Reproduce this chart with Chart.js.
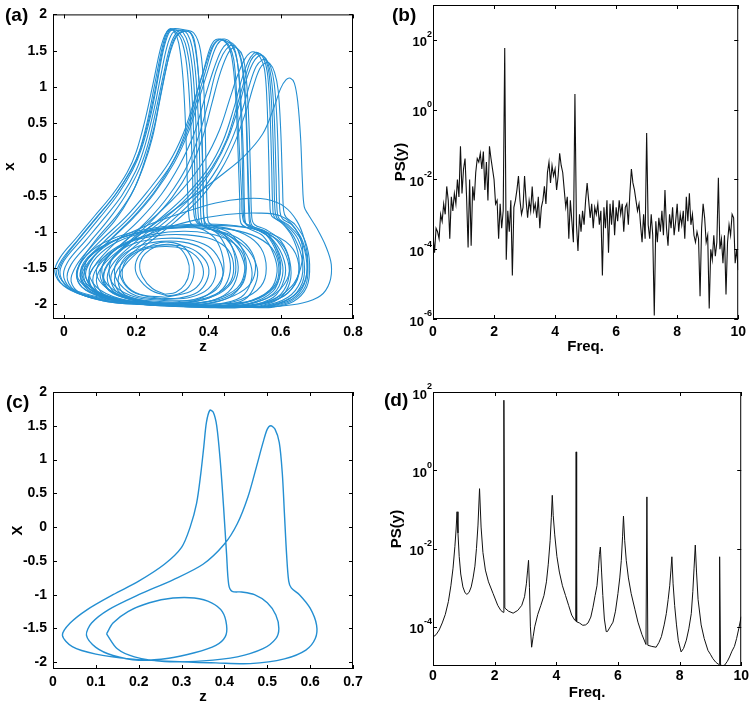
<!DOCTYPE html>
<html>
<head>
<meta charset="utf-8">
<script src="https://cdn.jsdelivr.net/npm/chart.js@4.4.1/dist/chart.umd.min.js"></script>
<style>
  body { margin: 0; background: #fff; }
  #fig { position: relative; width: 751px; height: 706px; overflow: hidden; }
  #fig canvas { position: absolute; }
  .tag { position: absolute; font: bold 19px 'Liberation Sans', Arial, sans-serif; line-height: 19px; color: #000; }
</style>
</head>
<body>
<div id="fig">
  <canvas id="chartA" width="375" height="360" style="left:0;top:0"></canvas>
  <canvas id="chartB" width="376" height="360" style="left:375px;top:0"></canvas>
  <canvas id="chartC" width="375" height="346" style="left:0;top:360px"></canvas>
  <canvas id="chartD" width="376" height="346" style="left:375px;top:360px"></canvas>
  <div class="tag" style="left:5px;top:5px">(a)</div>
  <div class="tag" style="left:392px;top:5px">(b)</div>
  <div class="tag" style="left:6px;top:392px">(c)</div>
  <div class="tag" style="left:384px;top:390px">(d)</div>
</div>
<script>
// ---- (a) chaotic attractor, traced loops as z,x pairs ----
const aTall = [
  [0.30,-2.0, 0.18,-1.97, 0.08,-1.9, 0.01,-1.78, -0.02,-1.58, -0.005,-1.38, 0.04,-1.1, 0.09,-0.8, 0.14,-0.5, 0.18,-0.2, 0.205,0.05, 0.23,0.5, 0.25,1.0, 0.268,1.45, 0.282,1.72, 0.292,1.8, 0.305,1.78, 0.325,1.65, 0.34,1.3, 0.35,0.6, 0.356,-0.2, 0.36,-0.75, 0.37,-0.88, 0.4,-0.94, 0.43,-1.05, 0.455,-1.3, 0.46,-1.55, 0.44,-1.78, 0.39,-1.93, 0.30,-2.0],
  [0.31,-2.01, 0.19,-1.98, 0.09,-1.92, 0.02,-1.8, -0.01,-1.6, 0.0,-1.4, 0.05,-1.1, 0.1,-0.8, 0.15,-0.48, 0.19,-0.15, 0.215,0.15, 0.24,0.6, 0.258,1.05, 0.275,1.5, 0.29,1.74, 0.302,1.79, 0.318,1.76, 0.336,1.6, 0.35,1.2, 0.358,0.5, 0.363,-0.3, 0.366,-0.8, 0.38,-0.9, 0.41,-0.97, 0.45,-1.1, 0.478,-1.35, 0.48,-1.6, 0.455,-1.83, 0.4,-1.96, 0.31,-2.01],
  [0.32,-2.02, 0.2,-1.99, 0.1,-1.93, 0.03,-1.82, 0.0,-1.63, 0.01,-1.42, 0.06,-1.12, 0.11,-0.82, 0.16,-0.5, 0.2,-0.15, 0.225,0.2, 0.25,0.7, 0.268,1.15, 0.285,1.55, 0.3,1.74, 0.315,1.78, 0.33,1.75, 0.345,1.58, 0.358,1.15, 0.366,0.4, 0.37,-0.4, 0.374,-0.85, 0.39,-0.93, 0.43,-1.0, 0.47,-1.15, 0.497,-1.4, 0.5,-1.62, 0.47,-1.86, 0.41,-1.98, 0.32,-2.02],
  [0.33,-2.02, 0.21,-2.0, 0.11,-1.95, 0.04,-1.84, 0.01,-1.66, 0.02,-1.45, 0.07,-1.15, 0.125,-0.82, 0.17,-0.5, 0.21,-0.12, 0.235,0.25, 0.258,0.75, 0.277,1.2, 0.295,1.58, 0.312,1.75, 0.328,1.78, 0.342,1.73, 0.355,1.55, 0.366,1.1, 0.374,0.3, 0.378,-0.5, 0.382,-0.88, 0.4,-0.95, 0.45,-1.03, 0.49,-1.2, 0.517,-1.45, 0.518,-1.68, 0.49,-1.9, 0.42,-2.0, 0.33,-2.02],
  [0.35,-2.03, 0.22,-2.0, 0.12,-1.96, 0.05,-1.86, 0.02,-1.68, 0.035,-1.46, 0.08,-1.18, 0.14,-0.85, 0.185,-0.5, 0.22,-0.1, 0.245,0.3, 0.265,0.8, 0.283,1.25, 0.3,1.6, 0.318,1.74, 0.34,1.77, 0.355,1.7, 0.366,1.45, 0.376,0.95, 0.383,0.2, 0.386,-0.55, 0.39,-0.9, 0.41,-0.97, 0.46,-1.06, 0.51,-1.25, 0.535,-1.5, 0.53,-1.72, 0.5,-1.93, 0.43,-2.02, 0.35,-2.03],
  [0.28,-1.98, 0.17,-1.95, 0.1,-1.88, 0.05,-1.76, 0.035,-1.58, 0.05,-1.38, 0.09,-1.1, 0.15,-0.75, 0.195,-0.4, 0.225,0.0, 0.25,0.45, 0.27,0.95, 0.29,1.4, 0.31,1.68, 0.33,1.76, 0.35,1.75, 0.362,1.62, 0.372,1.2, 0.38,0.5, 0.385,-0.3, 0.388,-0.82, 0.4,-0.92, 0.43,-0.98, 0.46,-1.15, 0.475,-1.4, 0.47,-1.65, 0.43,-1.85, 0.36,-1.96, 0.28,-1.98],
  [0.3,-2.0, 0.18,-1.96, 0.08,-1.88, 0.015,-1.76, -0.015,-1.57, 0.0,-1.37, 0.045,-1.08, 0.095,-0.78, 0.145,-0.47, 0.185,-0.15, 0.21,0.12, 0.235,0.55, 0.255,1.02, 0.272,1.48, 0.287,1.74, 0.3,1.8, 0.33,1.79, 0.36,1.74, 0.378,1.5, 0.388,0.9, 0.393,0.0, 0.396,-0.6, 0.4,-0.86, 0.42,-0.93, 0.46,-1.02, 0.495,-1.25, 0.505,-1.5, 0.49,-1.75, 0.43,-1.93, 0.3,-2.0],
  [0.29,-1.99, 0.17,-1.96, 0.07,-1.88, 0.0,-1.74, -0.025,-1.55, -0.01,-1.35, 0.035,-1.08, 0.085,-0.78, 0.135,-0.48, 0.175,-0.18, 0.2,0.1, 0.225,0.55, 0.247,1.05, 0.266,1.5, 0.28,1.72, 0.292,1.79, 0.305,1.77, 0.318,1.6, 0.33,1.1, 0.338,0.3, 0.343,-0.5, 0.348,-0.85, 0.36,-0.92, 0.39,-0.98, 0.42,-1.1, 0.44,-1.35, 0.44,-1.6, 0.41,-1.82, 0.36,-1.95, 0.29,-1.99]
];
const aMid = [
  [0.4,-2.02, 0.25,-2.0, 0.13,-1.93, 0.06,-1.8, 0.035,-1.6, 0.05,-1.4, 0.1,-1.13, 0.17,-0.8, 0.23,-0.45, 0.29,-0.05, 0.33,0.35, 0.36,0.8, 0.385,1.2, 0.402,1.5, 0.415,1.63, 0.43,1.66, 0.45,1.6, 0.465,1.4, 0.475,0.9, 0.482,0.1, 0.487,-0.6, 0.49,-0.88, 0.51,-0.95, 0.55,-1.05, 0.58,-1.3, 0.59,-1.55, 0.57,-1.8, 0.5,-1.98, 0.4,-2.02],
  [0.42,-2.03, 0.27,-2.0, 0.15,-1.95, 0.08,-1.82, 0.055,-1.62, 0.07,-1.42, 0.12,-1.15, 0.19,-0.82, 0.25,-0.47, 0.305,-0.05, 0.345,0.38, 0.375,0.85, 0.4,1.25, 0.418,1.52, 0.432,1.63, 0.447,1.64, 0.465,1.57, 0.48,1.35, 0.49,0.8, 0.497,0.0, 0.5,-0.7, 0.505,-0.9, 0.53,-0.96, 0.57,-1.08, 0.6,-1.35, 0.605,-1.6, 0.58,-1.85, 0.51,-2.0, 0.42,-2.03],
  [0.43,-2.03, 0.28,-2.01, 0.16,-1.96, 0.09,-1.84, 0.07,-1.64, 0.09,-1.43, 0.14,-1.16, 0.21,-0.83, 0.27,-0.48, 0.32,-0.08, 0.36,0.35, 0.39,0.85, 0.415,1.25, 0.435,1.5, 0.452,1.6, 0.467,1.6, 0.482,1.5, 0.494,1.25, 0.503,0.7, 0.508,-0.1, 0.512,-0.75, 0.517,-0.92, 0.54,-0.98, 0.58,-1.12, 0.61,-1.4, 0.61,-1.65, 0.58,-1.9, 0.51,-2.02, 0.43,-2.03],
  [0.38,-2.0, 0.26,-1.98, 0.15,-1.92, 0.08,-1.78, 0.06,-1.58, 0.08,-1.36, 0.13,-1.1, 0.2,-0.75, 0.26,-0.38, 0.31,0.05, 0.345,0.5, 0.37,0.95, 0.392,1.3, 0.41,1.55, 0.425,1.64, 0.44,1.65, 0.456,1.58, 0.47,1.38, 0.478,0.9, 0.485,0.2, 0.492,-0.5, 0.497,-0.85, 0.52,-0.92, 0.56,-1.0, 0.59,-1.25, 0.6,-1.5, 0.585,-1.75, 0.52,-1.95, 0.38,-2.0],
  [0.44,-2.03, 0.3,-2.01, 0.18,-1.96, 0.1,-1.85, 0.08,-1.66, 0.1,-1.44, 0.16,-1.17, 0.23,-0.85, 0.29,-0.5, 0.34,-0.1, 0.375,0.35, 0.4,0.8, 0.42,1.2, 0.44,1.45, 0.457,1.56, 0.47,1.57, 0.485,1.48, 0.497,1.2, 0.505,0.6, 0.51,-0.2, 0.515,-0.8, 0.522,-0.92, 0.55,-0.98, 0.59,-1.12, 0.62,-1.4, 0.62,-1.68, 0.59,-1.9, 0.52,-2.02, 0.44,-2.03],
  [0.41,-2.02, 0.26,-2.0, 0.14,-1.94, 0.07,-1.81, 0.045,-1.61, 0.06,-1.41, 0.11,-1.14, 0.18,-0.81, 0.24,-0.46, 0.3,-0.05, 0.34,0.37, 0.368,0.82, 0.392,1.22, 0.41,1.52, 0.425,1.64, 0.445,1.66, 0.46,1.62, 0.475,1.48, 0.485,1.1, 0.492,0.3, 0.496,-0.5, 0.5,-0.86, 0.52,-0.94, 0.56,-1.04, 0.59,-1.3, 0.598,-1.56, 0.578,-1.82, 0.51,-1.99, 0.41,-2.02],
  [0.45,-2.04, 0.31,-2.02, 0.19,-1.97, 0.11,-1.86, 0.09,-1.67, 0.11,-1.45, 0.17,-1.18, 0.24,-0.86, 0.3,-0.52, 0.35,-0.12, 0.385,0.32, 0.41,0.78, 0.43,1.15, 0.45,1.42, 0.465,1.53, 0.48,1.53, 0.495,1.42, 0.505,1.1, 0.512,0.5, 0.517,-0.3, 0.52,-0.8, 0.528,-0.9, 0.56,-0.97, 0.6,-1.12, 0.625,-1.4, 0.625,-1.7, 0.595,-1.92, 0.53,-2.03, 0.45,-2.04]
];
const aLow = [
  [0.46,-2.03, 0.32,-2.01, 0.2,-1.95, 0.13,-1.82, 0.11,-1.62, 0.13,-1.4, 0.19,-1.12, 0.27,-0.8, 0.34,-0.48, 0.4,-0.12, 0.44,0.25, 0.47,0.7, 0.492,1.1, 0.51,1.35, 0.525,1.46, 0.538,1.47, 0.552,1.4, 0.563,1.2, 0.57,0.7, 0.575,-0.1, 0.578,-0.65, 0.583,-0.8, 0.61,-0.9, 0.64,-1.1, 0.66,-1.4, 0.655,-1.68, 0.62,-1.9, 0.55,-2.02, 0.46,-2.03],
  [0.48,-2.03, 0.34,-2.01, 0.22,-1.96, 0.15,-1.84, 0.13,-1.64, 0.15,-1.42, 0.21,-1.14, 0.29,-0.82, 0.36,-0.48, 0.415,-0.1, 0.455,0.3, 0.485,0.75, 0.505,1.1, 0.522,1.32, 0.537,1.42, 0.55,1.43, 0.563,1.35, 0.574,1.12, 0.582,0.6, 0.587,-0.2, 0.59,-0.7, 0.596,-0.82, 0.62,-0.9, 0.655,-1.1, 0.672,-1.42, 0.665,-1.72, 0.63,-1.93, 0.56,-2.03, 0.48,-2.03],
  [0.44,-2.02, 0.3,-2.0, 0.19,-1.93, 0.12,-1.78, 0.1,-1.58, 0.12,-1.36, 0.18,-1.08, 0.26,-0.75, 0.33,-0.4, 0.39,0.0, 0.43,0.4, 0.46,0.85, 0.48,1.15, 0.5,1.38, 0.515,1.47, 0.528,1.48, 0.542,1.42, 0.555,1.25, 0.562,0.8, 0.567,0.0, 0.57,-0.6, 0.575,-0.78, 0.6,-0.86, 0.63,-1.05, 0.65,-1.35, 0.645,-1.65, 0.61,-1.88, 0.53,-2.01, 0.44,-2.02],
  [0.5,-2.03, 0.36,-2.02, 0.24,-1.97, 0.16,-1.86, 0.14,-1.66, 0.16,-1.44, 0.22,-1.16, 0.3,-0.84, 0.37,-0.5, 0.425,-0.12, 0.465,0.28, 0.495,0.7, 0.515,1.05, 0.532,1.28, 0.548,1.37, 0.56,1.37, 0.572,1.28, 0.582,1.05, 0.59,0.5, 0.595,-0.3, 0.598,-0.72, 0.605,-0.82, 0.63,-0.9, 0.66,-1.12, 0.675,-1.45, 0.668,-1.75, 0.63,-1.95, 0.57,-2.03, 0.5,-2.03],
  [0.47,-2.03, 0.33,-2.01, 0.21,-1.96, 0.14,-1.83, 0.12,-1.63, 0.14,-1.41, 0.2,-1.13, 0.28,-0.81, 0.35,-0.48, 0.41,-0.11, 0.45,0.27, 0.478,0.72, 0.5,1.1, 0.517,1.36, 0.532,1.45, 0.545,1.45, 0.558,1.38, 0.568,1.18, 0.576,0.65, 0.581,-0.15, 0.584,-0.68, 0.59,-0.81, 0.615,-0.9, 0.648,-1.1, 0.665,-1.42, 0.66,-1.7, 0.625,-1.92, 0.555,-2.03, 0.47,-2.03],
  [0.52,-2.04, 0.38,-2.02, 0.26,-1.98, 0.17,-1.87, 0.15,-1.67, 0.17,-1.45, 0.23,-1.17, 0.31,-0.85, 0.38,-0.52, 0.435,-0.14, 0.475,0.26, 0.505,0.68, 0.525,1.02, 0.542,1.25, 0.557,1.33, 0.57,1.32, 0.583,1.2, 0.593,0.95, 0.6,0.4, 0.605,-0.35, 0.608,-0.7, 0.615,-0.8, 0.64,-0.9, 0.668,-1.13, 0.68,-1.45, 0.672,-1.76, 0.635,-1.96, 0.575,-2.04, 0.52,-2.04]
];
const aArcs = [
  [0.55,-2.03, 0.4,-2.02, 0.25,-1.98, 0.15,-1.88, 0.11,-1.7, 0.12,-1.45, 0.18,-1.15, 0.27,-0.82, 0.36,-0.5, 0.44,-0.2, 0.5,0.05, 0.55,0.35, 0.58,0.7, 0.6,0.98, 0.615,1.1, 0.627,1.12, 0.638,1.05, 0.647,0.8, 0.655,0.3, 0.66,-0.3, 0.665,-0.65, 0.675,-0.75, 0.7,-0.95, 0.725,-1.2, 0.74,-1.45, 0.735,-1.7, 0.71,-1.88, 0.66,-1.98, 0.58,-2.03, 0.55,-2.03],
  [0.3,-2.01, 0.18,-1.96, 0.09,-1.85, 0.05,-1.65, 0.07,-1.4, 0.13,-1.15, 0.22,-0.93, 0.32,-0.75, 0.42,-0.6, 0.5,-0.54, 0.56,-0.55, 0.61,-0.65, 0.645,-0.85, 0.665,-1.1, 0.675,-1.4, 0.665,-1.7, 0.63,-1.9, 0.56,-2.02, 0.45,-2.04, 0.3,-2.01],
  [0.35,-2.02, 0.22,-1.98, 0.12,-1.9, 0.07,-1.72, 0.08,-1.5, 0.14,-1.25, 0.24,-1.02, 0.35,-0.85, 0.45,-0.76, 0.54,-0.74, 0.6,-0.78, 0.64,-0.95, 0.66,-1.2, 0.655,-1.5, 0.63,-1.75, 0.57,-1.95, 0.47,-2.03, 0.35,-2.02]
];
const aRings = [
  [0.28,-1.86, 0.245,-1.78, 0.218,-1.62, 0.21,-1.45, 0.225,-1.3, 0.255,-1.2, 0.29,-1.17, 0.32,-1.22, 0.342,-1.38, 0.347,-1.55, 0.335,-1.72, 0.31,-1.83, 0.28,-1.86],
  [0.285,-1.88, 0.24,-1.8, 0.205,-1.62, 0.198,-1.45, 0.215,-1.28, 0.25,-1.17, 0.29,-1.14, 0.33,-1.2, 0.355,-1.38, 0.36,-1.58, 0.345,-1.76, 0.315,-1.86, 0.285,-1.88],
  [0.28,-1.93, 0.2,-1.88, 0.155,-1.72, 0.14,-1.52, 0.16,-1.33, 0.21,-1.19, 0.27,-1.13, 0.33,-1.14, 0.38,-1.22, 0.41,-1.38, 0.42,-1.58, 0.4,-1.78, 0.35,-1.9, 0.28,-1.93],
  [0.29,-1.95, 0.2,-1.9, 0.14,-1.74, 0.125,-1.52, 0.145,-1.3, 0.2,-1.15, 0.27,-1.09, 0.34,-1.1, 0.4,-1.2, 0.43,-1.38, 0.44,-1.6, 0.42,-1.8, 0.36,-1.93, 0.29,-1.95],
  [0.27,-1.92, 0.2,-1.85, 0.165,-1.7, 0.155,-1.5, 0.175,-1.33, 0.22,-1.22, 0.28,-1.18, 0.335,-1.2, 0.375,-1.3, 0.4,-1.48, 0.395,-1.68, 0.37,-1.83, 0.32,-1.91, 0.27,-1.92],
  [0.3,-2.0, 0.18,-1.95, 0.1,-1.8, 0.07,-1.58, 0.09,-1.35, 0.15,-1.13, 0.24,-0.99, 0.33,-0.94, 0.41,-0.97, 0.48,-1.08, 0.52,-1.28, 0.53,-1.52, 0.51,-1.75, 0.45,-1.92, 0.37,-2.0, 0.3,-2.0],
  [0.3,-1.99, 0.19,-1.93, 0.12,-1.78, 0.09,-1.57, 0.11,-1.35, 0.17,-1.15, 0.25,-1.03, 0.33,-0.99, 0.4,-1.02, 0.46,-1.12, 0.495,-1.3, 0.5,-1.55, 0.48,-1.77, 0.42,-1.93, 0.35,-1.99, 0.3,-1.99],
  [0.32,-2.02, 0.18,-1.97, 0.09,-1.82, 0.05,-1.6, 0.07,-1.35, 0.14,-1.12, 0.24,-0.97, 0.34,-0.91, 0.43,-0.93, 0.5,-1.03, 0.545,-1.22, 0.56,-1.5, 0.545,-1.75, 0.49,-1.93, 0.4,-2.02, 0.32,-2.02],
  [0.35,-2.03, 0.2,-1.99, 0.1,-1.86, 0.04,-1.65, 0.05,-1.4, 0.11,-1.15, 0.21,-0.98, 0.33,-0.9, 0.45,-0.9, 0.54,-0.98, 0.6,-1.15, 0.625,-1.45, 0.61,-1.72, 0.56,-1.92, 0.46,-2.03, 0.35,-2.03],
  [0.38,-2.04, 0.22,-2.0, 0.11,-1.88, 0.05,-1.68, 0.055,-1.42, 0.12,-1.16, 0.22,-1.0, 0.35,-0.92, 0.47,-0.92, 0.56,-1.0, 0.625,-1.18, 0.65,-1.45, 0.64,-1.72, 0.59,-1.93, 0.49,-2.04, 0.38,-2.04],
  [0.3,-1.97, 0.2,-1.92, 0.13,-1.77, 0.105,-1.55, 0.125,-1.32, 0.18,-1.14, 0.26,-1.05, 0.34,-1.04, 0.41,-1.1, 0.455,-1.25, 0.47,-1.5, 0.455,-1.73, 0.4,-1.9, 0.3,-1.97],
  [0.34,-2.03, 0.2,-1.98, 0.1,-1.84, 0.06,-1.62, 0.065,-1.38, 0.13,-1.14, 0.22,-0.99, 0.34,-0.93, 0.44,-0.95, 0.52,-1.04, 0.575,-1.22, 0.595,-1.5, 0.58,-1.76, 0.52,-1.94, 0.43,-2.03, 0.34,-2.03],
  [0.28,-1.9, 0.21,-1.86, 0.17,-1.72, 0.162,-1.52, 0.18,-1.35, 0.22,-1.24, 0.28,-1.2, 0.33,-1.23, 0.365,-1.33, 0.385,-1.5, 0.38,-1.68, 0.35,-1.82, 0.28,-1.9]
];
const aTicksX = [0, 0.2, 0.4, 0.6, 0.8];
const aTicksY = [-2, -1.5, -1, -0.5, 0, 0.5, 1, 1.5, 2];

// ---- (b) power spectrum, log10 values every 0.05 from 0 to 10 ----
const bStep = 0.05;
const bLogPS = [
  -3.6,-4.1,-3.4,-3.5,-3.7,-3.0,-3.2,-2.7,-3.0,-2.2,-2.6,-3.7,-2.5,-2.9,-2.4,-2.7,-2.0,-2.5,-1.05,-2.4,
  -1.7,-1.4,-2.5,-3.95,-2.0,-3.9,-2.2,-2.6,-1.8,-1.4,-1.5,-1.25,-1.7,-1.2,-2.3,-1.5,-2.6,-1.05,-1.4,-1.7,
  -2.0,-2.7,-2.6,-3.7,-2.7,-3.4,-2.9,1.77,-4.3,-2.9,-3.5,-2.6,-4.75,-2.8,-2.6,-2.3,-1.9,-2.6,-3.0,-2.8,
  -1.9,-2.6,-3.1,-2.6,-2.9,-2.2,-2.9,-2.7,-3.1,-2.5,-3.4,-2.8,-2.6,-2.2,-2.7,-1.8,-1.5,-2.1,-1.6,-1.9,
  -1.7,-2.3,-1.9,-1.25,-1.6,-1.8,-2.3,-2.8,-2.5,-3.7,-2.6,-3.2,-3.8,0.45,-3.3,-4.05,-3.0,-3.5,-2.9,-3.3,
  -2.6,-2.1,-2.6,-3.1,-2.7,-3.4,-2.8,-3.0,-2.7,-3.3,-2.9,-4.75,-2.8,-3.4,-2.6,-4.1,-2.7,-3.3,-2.6,-3.6,
  -2.8,-3.2,-2.6,-3.0,-2.7,-3.5,-2.8,-2.7,-3.3,-2.4,-1.7,-2.1,-2.3,-2.6,-2.9,-2.7,-3.3,-3.8,-3.0,-3.7,
  -0.67,-3.3,-3.7,-3.0,-3.6,-5.9,-3.2,-3.8,-3.1,-3.5,-2.9,-3.6,-2.3,-3.4,-3.9,-3.0,-3.4,-2.8,-3.6,-3.2,
  -2.7,-3.5,-3.0,-3.3,-2.9,-3.7,-2.5,-3.2,-2.4,-3.3,-3.0,-3.6,-3.8,-3.5,-3.7,-5.35,-3.4,-2.7,-3.1,-3.8,
  -3.6,-5.7,-4.0,-4.3,-3.6,-4.2,-3.8,-1.95,-4.0,-3.7,-4.4,-3.6,-5.3,-3.8,-3.3,-3.6,-3.0,-3.1,-4.4,-4.0,
  -4.6
];

// ---- (c) periodic orbit, z,x pairs ----
const cOrbit = [
  0.125,-1.58, 0.14,-1.42, 0.175,-1.25, 0.225,-1.12, 0.28,-1.05, 0.33,-1.05, 0.37,-1.12, 0.395,-1.25, 0.405,-1.45, 0.402,-1.62, 0.38,-1.75, 0.33,-1.86, 0.27,-1.94, 0.2,-1.97, 0.14,-1.9, 0.1,-1.78, 0.078,-1.6,
  0.09,-1.42, 0.13,-1.22, 0.2,-1.0, 0.28,-0.78, 0.35,-0.55, 0.4,-0.25, 0.43,0.05, 0.455,0.45, 0.475,0.9, 0.49,1.25, 0.5,1.45, 0.508,1.5, 0.518,1.45, 0.528,1.25, 0.535,0.8, 0.54,0.2, 0.545,-0.4, 0.55,-0.8, 0.556,-0.9, 0.575,-1.0, 0.6,-1.2, 0.615,-1.45, 0.612,-1.65, 0.59,-1.82, 0.54,-1.95, 0.46,-2.02, 0.38,-2.01, 0.28,-1.99, 0.18,-1.95, 0.1,-1.88, 0.045,-1.77, 0.022,-1.6,
  0.04,-1.42, 0.08,-1.22, 0.14,-1.0, 0.2,-0.8, 0.26,-0.55, 0.3,-0.3, 0.32,0.0, 0.335,0.35, 0.345,0.8, 0.352,1.2, 0.358,1.55, 0.366,1.73, 0.374,1.7, 0.382,1.5, 0.39,1.0, 0.398,0.3, 0.405,-0.4, 0.41,-0.85, 0.418,-0.95, 0.44,-0.96, 0.47,-1.0, 0.5,-1.12, 0.52,-1.3, 0.527,-1.5, 0.52,-1.65, 0.49,-1.8, 0.43,-1.92, 0.35,-1.98, 0.26,-1.99, 0.19,-1.92, 0.15,-1.8, 0.125,-1.58
];
const cTicksX = [0, 0.1, 0.2, 0.3, 0.4, 0.5, 0.6, 0.7];
const cTicksY = [-2, -1.5, -1, -0.5, 0, 0.5, 1, 1.5, 2];

// ---- (d) power spectrum of periodic orbit ----
const dFreq = [
  0,0.1,0.2,0.3,0.4,0.5,0.58,0.65,0.71,0.75,0.78,0.81,0.85,0.9,0.97,1.04,1.1,1.17,1.24,1.3,1.36,1.41,1.46,1.51,1.56,1.62,1.7,1.8,1.95,2.1,2.2,2.28,2.3,2.33,
  2.45,2.6,2.75,2.88,2.97,3.03,3.07,3.1,3.13,3.16,3.2,3.25,3.3,3.4,3.5,3.6,3.68,3.74,3.8,3.84,3.87,3.9,3.95,4.02,4.1,4.2,4.3,4.4,4.5,4.6,4.63,4.645,4.66,
  4.75,4.86,4.95,5.03,5.12,5.19,5.26,5.32,5.37,5.4,5.43,5.47,5.51,5.56,5.62,5.66,5.75,5.84,5.92,6.0,6.06,6.11,6.15,6.18,6.22,6.27,6.34,6.43,6.55,6.65,6.78,6.91,6.94,6.97,
  7.1,7.24,7.33,7.41,7.5,7.57,7.63,7.68,7.72,7.75,7.79,7.84,7.9,7.96,8.05,8.13,8.22,8.3,8.38,8.43,8.47,8.51,8.55,8.6,8.7,8.8,8.92,9.0,9.08,9.17,9.25,9.28,9.3,9.33,
  9.4,9.46,9.55,9.62,9.7,9.78,9.85,9.92,10
];
const dLogPS = [
  -4.26,-4.2,-4.08,-3.9,-3.68,-3.35,-2.95,-2.5,-1.95,-1.5,-1.06,-1.6,-2.2,-2.65,-2.98,-3.13,-3.17,-3.12,-2.98,-2.75,-2.45,-2.0,-1.4,-0.47,-1.45,-2.1,-2.55,-2.85,-3.15,-3.45,-3.58,-3.63,1.79,-3.52,
  -3.6,-3.65,-3.58,-3.45,-3.23,-2.9,-2.55,-2.3,-3.0,-4.0,-4.52,-4.25,-4.0,-3.68,-3.45,-3.2,-2.85,-2.4,-1.8,-1.2,-0.64,-1.15,-1.65,-2.2,-2.6,-2.95,-3.2,-3.45,-3.7,-3.83,-3.85,0.47,-3.87,
  -3.9,-3.96,-3.95,-3.9,-3.75,-3.5,-3.2,-2.95,-2.5,-2.15,-1.96,-2.6,-3.2,-3.8,-4.12,-4.12,-4.0,-3.88,-3.6,-3.15,-2.75,-2.3,-1.7,-1.17,-1.8,-2.3,-2.75,-3.15,-3.55,-3.88,-4.2,-4.45,-0.68,-4.47,
  -4.5,-4.52,-4.4,-4.25,-3.95,-3.66,-3.3,-2.95,-2.55,-2.21,-2.9,-3.45,-3.95,-4.35,-4.64,-4.55,-4.34,-4.05,-3.66,-3.1,-2.5,-1.91,-2.6,-3.3,-3.95,-4.3,-4.6,-4.7,-4.81,-4.9,-4.95,-4.96,-2.21,-4.98,
  -4.99,-4.98,-4.88,-4.77,-4.62,-4.5,-4.3,-4.05,-3.74
];
const freqTicks = [0, 2, 4, 6, 8, 10];
const bTicksY = [1e-6, 1e-4, 1e-2, 1, 1e2];
const dTicksY = [1e-4, 1e-2, 1, 1e2];

const FONT = "'Liberation Sans', Arial, sans-serif";
const BLUE = 'rgb(36,143,210)';

function pairs(flat) {
  const out = [];
  for (let i = 0; i < flat.length; i += 2) out.push({ x: flat[i], y: flat[i + 1] });
  return out;
}

// box with inward ticks on all four sides, plus 10^n labels for log axes
const framePlugin = {
  id: 'frame',
  afterDraw(chart, args, opts) {
    const { ctx, chartArea: a, scales } = chart;
    ctx.save();
    ctx.strokeStyle = '#000';
    ctx.lineWidth = 1;
    ctx.strokeRect(a.left + 0.5, a.top + 0.5, a.right - a.left - 1, a.bottom - a.top - 1);
    const len = 4;
    ctx.beginPath();
    scales.x.ticks.forEach(t => {
      const px = Math.round(scales.x.getPixelForValue(t.value)) + 0.5;
      ctx.moveTo(px, a.bottom); ctx.lineTo(px, a.bottom - len);
      ctx.moveTo(px, a.top); ctx.lineTo(px, a.top + len);
    });
    scales.y.ticks.forEach(t => {
      const py = Math.round(scales.y.getPixelForValue(t.value)) + 0.5;
      ctx.moveTo(a.left, py); ctx.lineTo(a.left + len, py);
      ctx.moveTo(a.right, py); ctx.lineTo(a.right - len, py);
    });
    ctx.stroke();
    if (opts.logY) {
      ctx.fillStyle = '#000';
      ctx.textAlign = 'right';
      ctx.textBaseline = 'middle';
      scales.y.ticks.forEach(t => {
        const py = scales.y.getPixelForValue(t.value);
        const ex = String(Math.round(Math.log10(t.value)));
        ctx.font = 'bold 9px ' + FONT;
        const ew = ctx.measureText(ex).width;
        const xr = a.left - 1;
        ctx.fillText(ex, xr, py - 5);
        ctx.font = 'bold 13px ' + FONT;
        ctx.fillText('10', xr - ew, py + 3);
      });
    }
    ctx.restore();
  }
};

function linAxis(min, max, ticks, o) {
  return {
    type: 'linear', min, max,
    grid: { display: false, drawTicks: false },
    border: { display: false },
    ticks: {
      color: '#000', padding: o.pad, maxRotation: 0, autoSkip: false,
      font: { family: FONT, size: 14, weight: 'bold' },
      callback: v => String(v)
    },
    title: { display: true, text: o.title, color: '#000', font: { family: FONT, size: 15, weight: 'bold' }, padding: o.titlePad },
    afterBuildTicks: s => { s.ticks = ticks.map(v => ({ value: v })); },
    afterFit: s => { if (s.isHorizontal()) s.height = o.size; else s.width = o.size; }
  };
}

function logAxis(min, max, ticks, o) {
  return {
    type: 'logarithmic', min, max,
    grid: { display: false, drawTicks: false },
    border: { display: false },
    ticks: { display: false },
    title: { display: true, text: o.title, color: '#000', font: { family: FONT, size: 15, weight: 'bold' }, padding: o.titlePad },
    afterBuildTicks: s => { s.ticks = ticks.map(v => ({ value: v })); },
    afterFit: s => { s.width = o.size; }
  };
}

function makeChart(id, datasets, scales, padding, logY) {
  return new Chart(document.getElementById(id), {
    type: 'scatter',
    data: { datasets },
    options: {
      responsive: false,
      animation: false,
      layout: { padding },
      plugins: { legend: { display: false }, tooltip: { enabled: false }, frame: { logY } },
      scales
    },
    plugins: [framePlugin]
  });
}

// (a)
const aCurves = [...aTall, ...aMid, ...aLow, ...aArcs, ...aRings];
makeChart('chartA',
  aCurves.map(c => ({ data: pairs(c), showLine: true, pointRadius: 0, borderColor: BLUE, borderWidth: 1.1, tension: 0.35 })),
  {
    x: linAxis(-0.03, 0.8, aTicksX, { pad: 5, title: 'z', titlePad: { top: 0, bottom: 4 }, size: 41 }),
    y: linAxis(-2.2, 2.0, aTicksY, { pad: 6, title: 'x', titlePad: { top: 1, bottom: 0 }, size: 53 })
  },
  { left: 0, top: 5, right: 22, bottom: 0 }, false);

// (b)
makeChart('chartB',
  [{ data: bLogPS.map((e, i) => ({ x: i * bStep, y: Math.pow(10, e) })), showLine: true, pointRadius: 0, borderColor: '#111', borderWidth: 1.1, tension: 0 }],
  {
    x: linAxis(0, 10, freqTicks, { pad: 5, title: 'Freq.', titlePad: { top: 0, bottom: 4 }, size: 41 }),
    y: logAxis(1e-6, 1e3, bTicksY, { title: 'PS(y)', titlePad: { top: 17, bottom: 0 }, size: 58 })
  },
  { left: 0, top: 5, right: 10, bottom: 0 }, true);

// (c)
makeChart('chartC',
  [{ data: pairs(cOrbit), showLine: true, pointRadius: 0, borderColor: BLUE, borderWidth: 1.4, tension: 0.3 }],
  {
    x: linAxis(0, 0.7, cTicksX, { pad: 5, title: 'z', titlePad: { top: 0, bottom: 0 }, size: 37 }),
    y: linAxis(-2.1, 2.0, cTicksY, { pad: 6, title: 'X', titlePad: { top: 9, bottom: 0 }, size: 53 })
  },
  { left: 0, top: 32, right: 22, bottom: 0 }, false);

// (d)
makeChart('chartD',
  [{ data: dFreq.map((f, i) => ({ x: f, y: Math.pow(10, dLogPS[i]) })), showLine: true, pointRadius: 0, borderColor: '#111', borderWidth: 1, tension: 0 }],
  {
    x: linAxis(0, 10, freqTicks, { pad: 2, title: 'Freq.', titlePad: { top: 0, bottom: 4 }, size: 40 }),
    y: logAxis(1e-5, 1e2, dTicksY, { title: 'PS(y)', titlePad: { top: 13, bottom: 0 }, size: 58 })
  },
  { left: 0, top: 32, right: 9, bottom: 0 }, true);
</script>
</body>
</html>
